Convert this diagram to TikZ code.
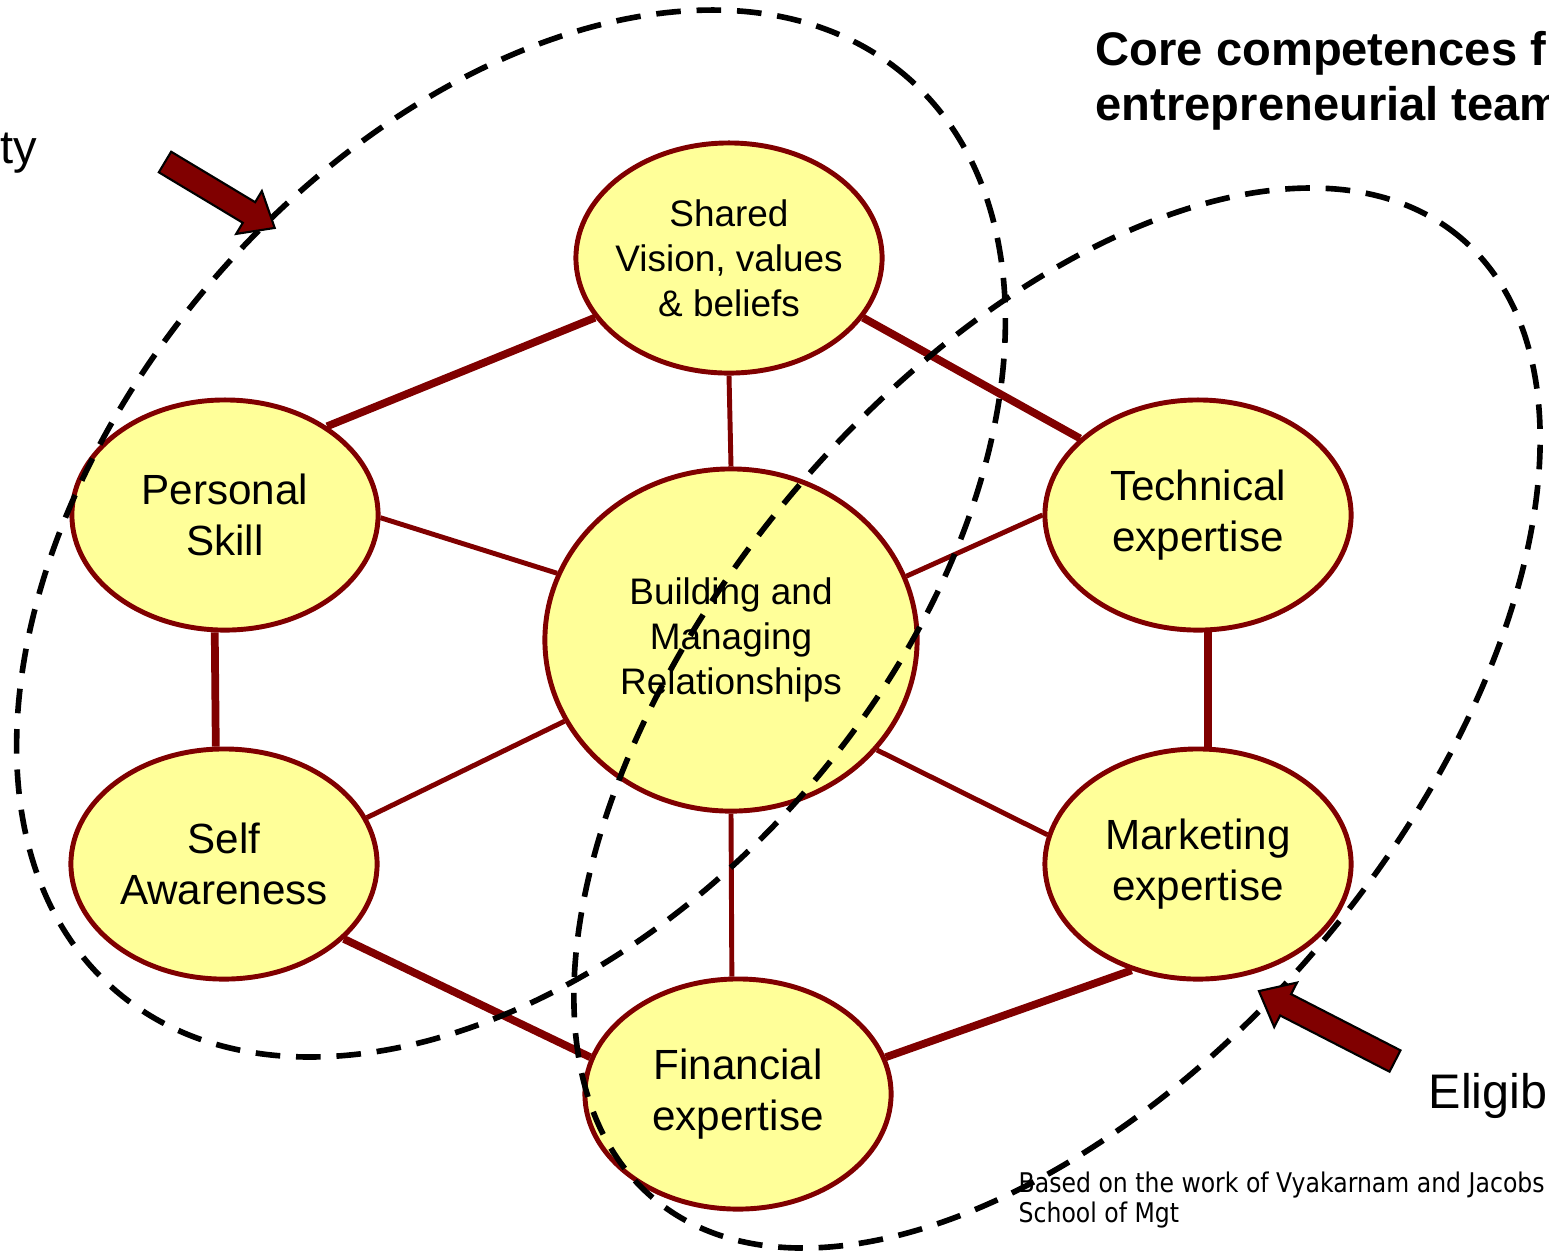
\documentclass[tikz,border=0pt]{standalone}
\usepackage{fontspec}
\setmainfont{Liberation Sans}
\newfontfamily\notefont[FakeStretch=0.87]{DejaVu Sans}
\usetikzlibrary{shapes.geometric}
\definecolor{darkred}{HTML}{800000}
\definecolor{paleyellow}{HTML}{FFFF99}
\newcommand{\bigtext}{\fontsize{12pt}{14.3pt}\selectfont}
\newcommand{\smalltext}{\fontsize{10.5pt}{12.8pt}\selectfont}
% block arrow: tail, angle, length
\newcommand{\blockarrow}[3]{%
	\begin{scope}[shift={#1}, rotate=#2]
		\draw[fill=darkred, line width=0.6pt, line join=miter] (0,-12) -- (#3-30,-12) -- (#3-30,-25) -- (#3,0) -- (#3-30,25) -- (#3-30,12) -- (0,12) -- cycle;
	\end{scope}}
\begin{document}
\begin{tikzpicture}[x=0.01cm, y=-0.01cm,
		comp/.style={draw=darkred, line width=1.4pt, fill=paleyellow, ellipse, inner sep=0pt, minimum width=3.06cm, minimum height=2.30cm, align=center, font=\bigtext},
		thick link/.style={draw=darkred, line width=2.2pt},
		thin link/.style={draw=darkred, line width=1.4pt},
		boundary/.style={draw=black, line width=1.6pt, dash pattern=on 7pt off 4.5pt}]
	\useasboundingbox (0,0) rectangle (1549,1253);
	\node (shared) at (729,258) [comp, inner xsep=-4pt, font=\smalltext] {Shared\\Vision, values\\\& beliefs};
	\node (personal) at (225,515) [comp] {Personal\\Skill};
	\node (tech) at (1198,515) [comp] {Technical\\expertise};
	\node (self) at (224,864) [comp] {Self\\Awareness};
	\node (market) at (1198,864) [comp] {Marketing\\expertise};
	\node (finance) at (738,1094) [comp] {Financial\\expertise};
	\node (center) at (731,640) [comp, minimum width=3.72cm, minimum height=3.42cm, font=\smalltext] {Building and\\Managing\\Relationships};
	\draw
	(shared.204.8) edge[thick link] (personal.41.3)
	(shared.-24) edge[thick link] (tech.147.2)
	(shared.south) edge[thin link] (center.north)
	(personal.-1) edge[thin link] (center.159.4)
	(tech.180.7) edge[thin link] (center.20.7)
	(personal.265.5) edge[thick link] (self.94)
	(tech.-85) edge[thick link] (market.85)
	(self.18.9) edge[thin link] (center.206.8)
	(center.-37.4) edge[thin link] (market.169)
	(center.south) edge[thin link] (finance.93.5)
	(self.-32.4) edge[thick link] (finance.166)
	(market.238) edge[thick link] (finance.14)
	;
	% the two groups
	\draw[boundary, rotate around={49:(511,533.5)}] (511,533.5) ellipse [x radius=6.04cm, y radius=3.91cm];
	\draw[boundary, rotate around={50:(1057,718)}] (1057,718) ellipse [x radius=6.27cm, y radius=3.47cm];
	\blockarrow{(165,162)}{-31}{128}
	\blockarrow{(1395,1061)}{152.8}{153}
	\node (title) at (1095,31) [anchor=north west, inner sep=0pt, align=left, font=\fontsize{13.4pt}{15.6pt}\selectfont\bfseries] {Core competences f\\entrepreneurial team};
	\node (left label) at (38,163) [anchor=base east, inner sep=0pt, font=\fontsize{13.4pt}{15pt}\selectfont] {ty};
	\node (right label) at (1428,1108) [anchor=base west, inner sep=0pt, font=\fontsize{13.8pt}{15pt}\selectfont] {Eligib};
	\node (source) at (1018,1171) [anchor=north west, inner sep=0pt, align=left, font=\notefont\fontsize{7.7pt}{8.5pt}\selectfont] {Based on the work of Vyakarnam and Jacobs\\School of Mgt};
\end{tikzpicture}
\end{document}
